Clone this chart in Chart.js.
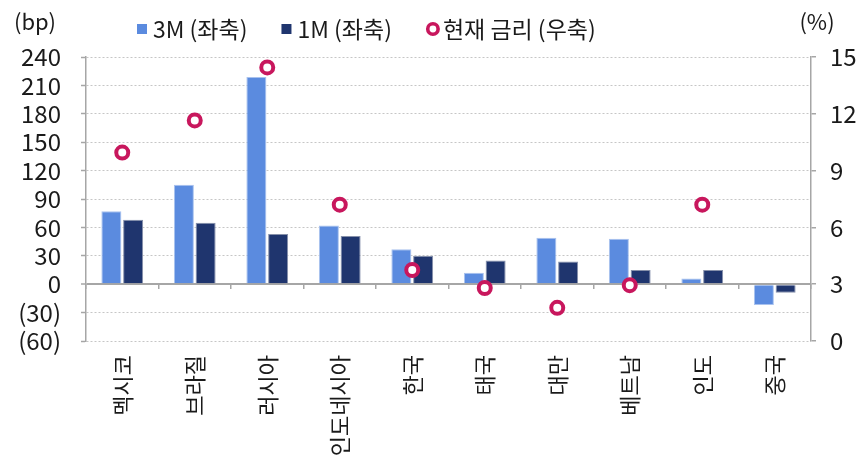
<!DOCTYPE html>
<html><head><meta charset="utf-8">
<script src="https://cdn.jsdelivr.net/npm/chart.js@4/dist/chart.umd.min.js"></script>
<style>html,body{margin:0;padding:0;background:#fff;}#wrap{width:868px;height:461px;position:relative;}</style>
</head><body><div id="wrap"><canvas id="c" width="868" height="461"></canvas></div>
<script>
const categories = ['멕시코','브라질','러시아','인도네시아','한국','태국','대만','베트남','인도','중국'];
const change3M = [77, 105, 219, 62, 37, 12, 49, 48, 6, -22];
const change1M = [68, 65, 53, 51, 30, 25, 24, 15, 15, -9];
const policyRate = [9.95, 11.65, 14.45, 7.2, 3.75, 2.8, 1.75, 2.95, 7.2, null];
const leftTicks = [-60, -30, 0, 30, 60, 90, 120, 150, 180, 210, 240];
const rightTicks = [0, 3, 6, 9, 12, 15];
const seriesNames = ['3M (좌축)', '1M (좌축)', '현재 금리 (우축)'];
const axisUnits = ['(bp)', '(%)'];

const FONT = '"Noto Sans CJK KR", "Noto Sans", sans-serif';
const TXT = '#1a1a1a';
const AXIS = '#a6a6a6';

const overlay = {
  id: 'overlay',
  afterDraw(chart) {
    const ctx = chart.ctx;
    ctx.save();
    ctx.fillStyle = TXT;
    ctx.textBaseline = 'middle';
    ctx.font = '22px ' + FONT;
    ctx.textAlign = 'center';
    ctx.fillText(axisUnits[0], 35, 22);
    ctx.fillText(axisUnits[1], 817, 22);
    // legend
    ctx.textAlign = 'left';
    ctx.font = '23px ' + FONT;
    let x = 137; const ym = 29;
    chart.data.datasets.forEach((ds) => {
      let tx;
      if (ds.type === 'line') {
        ctx.beginPath();
        ctx.arc(x + 7, ym, 5.2, 0, Math.PI * 2);
        ctx.fillStyle = '#fff'; ctx.fill();
        ctx.lineWidth = 3.6; ctx.strokeStyle = ds.pointBorderColor; ctx.stroke();
        tx = x + 17;
      } else {
        ctx.fillStyle = ds.backgroundColor;
        ctx.fillRect(x, ym - 5, 10, 10);
        tx = x + 16;
      }
      ctx.fillStyle = TXT;
      ctx.fillText(ds.label, tx, ym);
      x = tx + ctx.measureText(ds.label).width + 34;
    });
    ctx.restore();
  }
};

new Chart(document.getElementById('c'), {
  type: 'bar',
  data: {
    labels: categories,
    datasets: [
      { label: seriesNames[0], data: change3M, backgroundColor: '#5B8BDF', borderColor: '#A9C2EE', borderWidth: 1,
        yAxisID: 'y', order: 2, categoryPercentage: 0.6, barPercentage: 0.92 },
      { label: seriesNames[1], data: change1M, backgroundColor: '#1F356E', borderColor: '#8690AA', borderWidth: 1,
        yAxisID: 'y', order: 2, categoryPercentage: 0.6, barPercentage: 0.92 },
      { type: 'line', label: seriesNames[2], data: policyRate, yAxisID: 'y1', showLine: false,
        pointStyle: 'circle', pointRadius: 6, pointHoverRadius: 6, pointBorderWidth: 4,
        pointBorderColor: '#C8175D', pointBackgroundColor: '#ffffff', order: 1 }
    ]
  },
  options: {
    responsive: false, animation: false, devicePixelRatio: 1,
    layout: { padding: { top: 57, left: 0, right: 0, bottom: 0 } },
    plugins: { legend: { display: false }, tooltip: { enabled: false } },
    events: [],
    scales: {
      x: {
        grid: { display: false }, border: { display: false },
        ticks: { minRotation: 90, maxRotation: 90, autoSkip: false, padding: 6, color: TXT,
                 font: { family: FONT, size: 22 } },
        afterFit(s) { s.height = 120; }
      },
      xz: {
        type: 'category', position: { y: 0 }, offset: true,
        grid: { offset: true, drawOnChartArea: false, tickLength: 5, color: AXIS, lineWidth: 1.5 },
        border: { display: false }, ticks: { display: false }
      },
      y: {
        position: 'left', min: -60, max: 240,
        afterBuildTicks(s) { s.ticks = leftTicks.map(v => ({ value: v })); },
        grid: {
          color: c => (c.tick && c.tick.value === 0) ? AXIS : '#c6c6c6',
          lineWidth: c => (c.tick && c.tick.value === 0) ? 2 : 1,
          tickColor: AXIS, tickWidth: 1.5, tickLength: 5, tickBorderDash: []
        },
        border: { color: AXIS, width: 1.5,
          dash: c => (c.type === 'tick' && c.tick && c.tick.value !== 0) ? [2, 2] : [] },
        ticks: { padding: 20, autoSkip: false, color: TXT, font: { family: FONT, size: 24 },
                 callback: v => v < 0 ? '(' + Math.abs(v) + ')' : String(v) },
        afterFit(s) { s.width = 86; }
      },
      y1: {
        position: 'right', min: 0, max: 15,
        afterBuildTicks(s) { s.ticks = rightTicks.map(v => ({ value: v })); },
        grid: { drawOnChartArea: false, tickLength: 5, color: AXIS, lineWidth: 1.5 },
        border: { color: AXIS, width: 1.5 },
        ticks: { padding: 14, autoSkip: false, color: TXT, font: { family: FONT, size: 24 } },
        afterFit(s) { s.width = 57; }
      }
    }
  },
  plugins: [overlay]
});
</script></body></html>
